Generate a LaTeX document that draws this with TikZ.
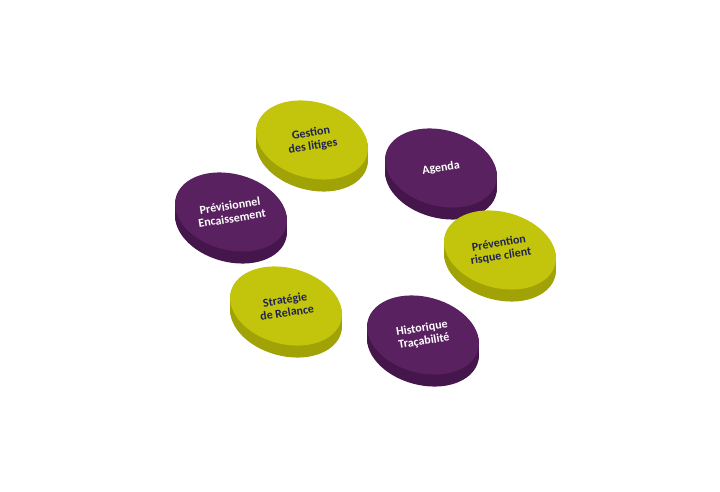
\documentclass[tikz,border=0pt]{standalone}
\usepackage{fontspec}
\setmainfont{Carlito}
\definecolor{olive}{HTML}{C3C50C}
\definecolor{olivedark}{HTML}{A0A206}
\definecolor{plum}{HTML}{5A2160}
\definecolor{plumdark}{HTML}{45164B}
\definecolor{navy}{HTML}{1F2352}
\tikzset{font=\bfseries\fontsize{12}{13}\selectfont}
\tikzset{disctext/.style={align=center, rotate=9, inner sep=0pt}}
\newcommand{\disc}[5]{%
  % #1 name, #2 x, #3 y, #4 face, #5 side
  \foreach \d in {12,11,...,1}
    \fill[#5] (#2,#3-\d) ellipse[x radius=57, y radius=38, rotate=-15];
  \fill[#4] (#2,#3) ellipse[x radius=57, y radius=38, rotate=-15];
  \coordinate (#1) at (#2,#3);
}

\begin{document}
\begin{tikzpicture}[x=1pt, y=1pt]
  \useasboundingbox (0,0) rectangle (720,492);
  % Discs
  \disc{gestion}{312}{352}{olive}{olivedark}
  \disc{agenda}{441}{324}{plum}{plumdark}
  \disc{prev}{231}{280}{plum}{plumdark}
  \disc{risque}{500}{242}{olive}{olivedark}
  \disc{relance}{286}{186}{olive}{olivedark}
  \disc{histo}{423}{157}{plum}{plumdark}
  % Labels
  \node[disctext, text=navy] (tgestion) at (gestion) {Gestion\\des litiges};
  \node[disctext, text=white] (tagenda) at (agenda) {Agenda};
  \node[disctext, text=white] (tprev) at (prev) {Prévisionnel\\Encaissement};
  \node[disctext, text=navy] (trisque) at (risque) {Prévention\\risque client};
  \node[disctext, text=navy] (trelance) at (relance) {Stratégie\\de Relance};
  \node[disctext, text=white] (thisto) at (histo) {Historique\\Traçabilité};
\end{tikzpicture}
\end{document}
